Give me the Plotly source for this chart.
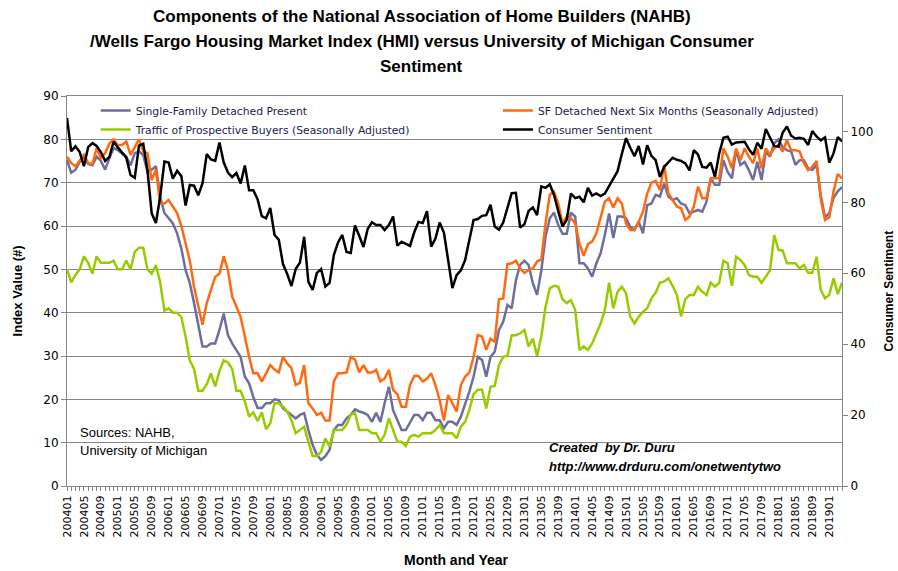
import plotly.graph_objects as go

# ---------------- data ----------------
years = list(range(2004, 2020))
months = [f"{y}{m:02d}" for y in years for m in range(1, 13)][:184]  # 200401 .. 201904

present = [
    75.2, 72.3, 73, 74.8, 76, 74.3, 74, 76, 75, 73, 75.6, 78,
    77.5, 76.8, 76, 74, 76.8, 77.2, 76.4, 72.5, 73, 73.8, 66.8, 63,
    61.8, 60.6, 58.3, 54.8, 49.8, 46.8, 42.2, 37.2, 32.2, 32.2, 32.9, 32.9,
    36, 39.8, 34.8, 32.9, 31.4, 29.8, 25.2, 23.7, 20.5, 18, 18, 19.1,
    19.1, 20, 19.8, 17.9, 17.2, 16.4, 15.6, 16.4, 16.8, 12.9, 9.5, 7.2,
    6, 6.9, 8.3, 12.9, 14.1, 14.1, 15.6, 16.4, 17.7, 17.2, 16.9, 16.4,
    14.8, 16.9, 14.8, 19.1, 22.9, 17.5, 15.2, 12.9, 12.9, 14.8, 16.4, 16.4,
    15.2, 16.9, 16.9, 15.2, 15.2, 13.3, 14.8, 14.8, 14.1, 16, 18.7, 21.8,
    25.2, 29.8, 29.1, 25.2, 29.8, 31, 36, 37.9, 41.8, 41, 47.5, 51,
    52, 51, 46.8, 44.1, 49.8, 57.5, 61.8, 63.1, 60.2, 58.2, 58.2, 63.1,
    62.2, 51.4, 51.4, 50.2, 48.3, 51.4, 53.7, 57.9, 62.9, 57.2, 62.2, 62.2,
    61.8, 59.8, 59.1, 61, 58.3, 64.8, 65.2, 67.2, 66.8, 69.8, 66.8, 66,
    66.4, 65.2, 64.8, 62.9, 63.3, 63.7, 63.3, 65.6, 71, 69.5, 69.5, 75.2,
    72.5, 71, 77.5, 74.1, 74.8, 72.9, 70.6, 74.8, 70.6, 77.2, 76, 79.1,
    80, 78.2, 77.5, 77.2, 74.1, 75.2, 75.2, 73.3, 72.9, 74.1, 67, 62,
    63, 66.5, 68, 69,
]

next_six = [
    76, 74.5, 73.8, 75.2, 76.4, 74.5, 74.3, 78, 75.6, 76.8, 79, 80,
    78.7, 78.7, 79.5, 76.4, 78.3, 80, 77.2, 76.8, 70.6, 73, 65.2, 65.2,
    66, 64.5, 63, 60, 56, 52, 46, 41.4, 37.2, 42.2, 45, 48.3,
    49, 53, 49.8, 43.7, 41.4, 39, 34.5, 29.8, 26, 26, 24.1, 26.2,
    27.9, 26.9, 26.2, 29.8, 28.3, 27.2, 23.3, 23.8, 27.9, 19.1, 17.9, 16.4,
    16.9, 15.1, 15.1, 24.1, 26, 26, 26.2, 29.8, 29.2, 26.2, 27.9, 26.2,
    26.2, 26.8, 24.1, 24.8, 26.8, 22.2, 21.2, 18.3, 18.3, 23.3, 25.4, 25.4,
    24.1, 24.8, 26, 23.3, 19.8, 15.1, 21, 19.1, 17.2, 23.3, 25.2, 26.2,
    29.8, 34.8, 34.5, 31.4, 34, 33.3, 43.1, 43.3, 51.2, 51.4, 52, 50.2,
    49.2, 49.8, 50.2, 51.8, 52.3, 60.6, 67.2, 67.9, 65.2, 60.6, 62.2, 61.8,
    60.6, 56, 53.1, 55.8, 56.4, 58.3, 61.8, 65.6, 66.4, 64.3, 66.4, 65.2,
    60.6, 59.1, 59.1, 61, 63.3, 67.5, 70, 70.4, 68.3, 74.1, 67.5, 66,
    64.5, 64.1, 61.4, 62.2, 64.5, 69.1, 66.4, 66.4, 71, 71, 71, 77.9,
    76, 73.3, 77.9, 75.2, 77.9, 76, 74.5, 77.9, 73.3, 77.9, 76.4, 77.9,
    78.7, 77.2, 79.8, 77.5, 77.5, 77.2, 74.5, 72.9, 73.7, 75, 66, 61.4,
    62, 68, 72, 71,
]

traffic = [
    50, 47, 48.7, 50, 53, 51.5, 49, 53, 51.5, 51.5, 51.5, 52,
    50, 50, 52, 50, 54, 55, 55, 50, 49, 51, 47, 40.5,
    41, 40, 40, 39, 34.5, 29, 27, 22, 22, 23.5, 26, 23,
    26.5, 29, 28.5, 27, 22, 22, 19.5, 16, 17, 15, 17, 13.1,
    14.5, 19.1, 19.1, 18.3, 17.2, 15.2, 12.2, 12.9, 13.7, 10.2, 6.9, 6.9,
    7.9, 11, 9.1, 12.9, 12.9, 12.9, 14.1, 16.4, 16.9, 12.9, 12.9, 12.9,
    12.2, 12.2, 10.2, 11.8, 15.6, 13.1, 10.2, 10.2, 9.2, 11.4, 11.8, 11.4,
    12.2, 12.2, 12.2, 12.9, 14.1, 12.2, 12.2, 12.2, 11, 13.7, 14.8, 17.5,
    21.2, 22.2, 22.2, 17.9, 22.9, 23.1, 27.9, 29.8, 30, 34.8, 34.8, 35.2,
    36, 32.2, 34, 30, 34.5, 41.4, 45.6, 46.2, 46, 43.1, 42.2, 42.9,
    40.6, 31.4, 32.2, 31.4, 32.9, 35.2, 37.5, 40.6, 46.9, 41, 44.8, 46,
    44.5, 39.1, 37.5, 39.1, 40.2, 41, 43.3, 44.6, 46.9, 47.2, 47.9, 46.2,
    44.1, 39.1, 43.1, 44.1, 44.1, 46, 44.8, 44.1, 46.9, 46, 46.9, 52,
    51.4, 46.2, 52.9, 52.2, 51, 48.7, 48.3, 48.3, 46.9, 48.3, 49.8, 57.9,
    54.5, 54.3, 51.4, 51.4, 51.4, 50.2, 51, 49.2, 49.2, 52.9, 45.2, 43.3,
    44.1, 47.9, 44.3, 46.9,
]

sentiment = [
    103.8, 94.4, 95.8, 94.2, 90.2, 95.6, 96.7, 95.9, 94.2, 91.7, 92.8, 97.1,
    95.5, 94.1, 92.6, 87.7, 86.9, 96.0, 96.5, 89.1, 76.9, 74.2, 81.6, 91.5,
    91.2, 86.7, 88.9, 87.4, 79.1, 84.9, 84.7, 82.0, 85.4, 93.6, 92.1, 91.7,
    96.9, 91.3, 88.4, 87.1, 88.3, 85.3, 90.4, 83.4, 83.4, 80.9, 76.1, 75.5,
    78.4, 70.8, 69.5, 62.6, 59.8, 56.4, 61.2, 63.0, 70.3, 57.6, 55.3, 60.1,
    61.2, 56.3, 57.3, 65.1, 68.7, 70.8, 66.0, 65.7, 73.5, 70.6, 67.4, 72.5,
    74.4, 73.6, 73.6, 72.2, 73.6, 76.0, 67.8, 68.9, 68.2, 67.7, 71.6, 74.5,
    74.2, 77.5, 67.5, 69.8, 74.3, 71.5, 63.7, 55.8, 59.5, 60.8, 63.7, 69.9,
    75.0, 75.3, 76.2, 76.4, 79.3, 73.2, 72.3, 74.3, 78.3, 82.6, 82.7, 72.9,
    73.8, 77.6, 78.6, 76.4, 84.5, 84.1, 85.1, 82.1, 77.5, 73.2, 75.1, 82.5,
    81.2, 81.6, 80.0, 84.1, 81.9, 82.5, 81.8, 82.5, 84.6, 86.9, 88.8, 93.6,
    98.1, 95.4, 93.0, 95.9, 90.7, 96.1, 93.1, 91.9, 87.2, 90.0, 91.3, 92.6,
    92.0, 91.7, 91.0, 89.0, 94.7, 93.5, 90.0, 89.8, 91.2, 87.2, 93.8, 98.2,
    98.5, 96.3, 96.9, 97.0, 97.1, 95.0, 93.4, 96.8, 95.1, 100.7, 98.5, 95.9,
    95.7, 99.7, 101.4, 98.8, 98.0, 98.2, 97.9, 96.2, 100.1, 98.6, 97.5, 98.3,
    91.2, 93.8, 98.4, 97.2,
]

series_names = [
    "Single-Family Detached Present",
    "SF Detached Next Six Months (Seasonally Adjusted)",
    "Traffic of Prospective Buyers (Seasonally Adjusted)",
    "Consumer Sentiment",
]
title_lines = [
    "Components of the National Association of Home Builders (NAHB)",
    "/Wells Fargo Housing Market Index (HMI) versus University of Michigan Consumer",
    "Sentiment",
]
left_ticks = list(range(0, 91, 10))
right_ticks = list(range(0, 101, 20))

# ---------------- figure ----------------
x = list(range(len(months)))
label_idx = list(range(0, len(months), 4))
label_text = [months[i] for i in label_idx]

GRID = "#868686"
PURPLE = "#6E6E9E"
ORANGE = "#FF6A10"
GREEN = "#99CC00"
BLACK = "#000000"
LEGTXT = "#1C1C4A"
TICKFONT = "DejaVu Sans, Verdana, sans-serif"
CAL = "Liberation Sans, Arial, sans-serif"

fig = go.Figure()
fig.add_trace(go.Scatter(x=x, y=present, mode="lines", name=series_names[0],
                         line=dict(color=PURPLE, width=2.5), legend="legend"))
fig.add_trace(go.Scatter(x=x, y=traffic, mode="lines", name=series_names[2],
                         line=dict(color=GREEN, width=2.5), legend="legend"))
fig.add_trace(go.Scatter(x=x, y=next_six, mode="lines", name=series_names[1],
                         line=dict(color=ORANGE, width=2.5), legend="legend2"))
fig.add_trace(go.Scatter(x=x, y=sentiment, mode="lines", name=series_names[3],
                         line=dict(color=BLACK, width=2.5), legend="legend2", yaxis="y2"))

legend_common = dict(
    orientation="v", yanchor="top", xanchor="left",
    bgcolor="rgba(0,0,0,0)", borderwidth=0,
    font=dict(family=TICKFONT, size=10.8, color=LEGTXT),
    tracegroupgap=0, itemwidth=30,
)

fig.update_layout(
    width=898, height=571,
    paper_bgcolor="white", plot_bgcolor="white",
    margin=dict(l=67, r=56, t=96, b=85),
    showlegend=True,
    legend=dict(x=0.037, y=1.0, **legend_common),
    legend2=dict(x=0.556, y=1.0, **legend_common),
    xaxis=dict(
        range=[0, len(months) - 1],
        tickmode="array", tickvals=label_idx, ticktext=label_text,
        tickangle=-90, tickfont=dict(family=TICKFONT, size=11, color="black"),
        ticks="outside", ticklen=4, tickcolor=GRID, tickwidth=1,
        minor=dict(dtick=1, tick0=0, ticks="outside", ticklen=4, tickcolor=GRID, tickwidth=1, showgrid=False),
        showgrid=False, zeroline=False,
        showline=True, linecolor=GRID, linewidth=1, mirror=True,
    ),
    yaxis=dict(
        range=[0, 90], tickvals=left_ticks,
        tickfont=dict(family=TICKFONT, size=12, color="black"),
        ticks="outside", ticklen=5, tickcolor=GRID,
        showgrid=True, gridcolor=GRID, gridwidth=1, zeroline=False,
        showline=True, linecolor=GRID, linewidth=1,
    ),
    yaxis2=dict(
        range=[0, 110], tickvals=right_ticks, overlaying="y", side="right",
        tickfont=dict(family=TICKFONT, size=12, color="black"),
        ticks="outside", ticklen=5, tickcolor=GRID,
        showgrid=False, zeroline=False,
        showline=True, linecolor=GRID, linewidth=1,
    ),
)

annots = []
for line_text, ypos in zip(title_lines, [1.2026, 1.1385, 1.0744]):
    annots.append(dict(text=f"<b>{line_text}</b>", x=0.458, y=ypos,
                       font=dict(family=CAL, size=17, color="black")))
annots += [
    dict(text="<b>Index Value (#)</b>", x=-0.064, y=0.5, textangle=-90,
         font=dict(family=CAL, size=13, color="black")),
    dict(text="<b>Consumer Sentiment</b>", x=1.06, y=0.5, textangle=-90,
         font=dict(family=CAL, size=12, color="black")),
    dict(text="<b>Month and Year</b>", x=0.502, y=-0.19,
         font=dict(family=CAL, size=14, color="black")),
    dict(text="Sources: NAHB,", x=0.0145, y=0.138, xanchor="left",
         font=dict(family=CAL, size=13, color="black")),
    dict(text="University of Michigan", x=0.0145, y=0.09, xanchor="left",
         font=dict(family=CAL, size=13, color="black")),
    dict(text="<b><i>Created  by Dr. Duru</i></b>", x=0.619, y=0.1, xanchor="left",
         font=dict(family=CAL, size=13, color="black")),
    dict(text="<b><i>http://www.drduru.com/onetwentytwo</i></b>", x=0.619, y=0.049, xanchor="left",
         font=dict(family=CAL, size=13, color="black")),
]
for a in annots:
    a.setdefault("xanchor", "center")
    fig.add_annotation(xref="paper", yref="paper", showarrow=False, yanchor="middle", **a)

fig.write_html("out.html", config={"displayModeBar": False},
               post_script="document.body.style.margin='0';document.body.style.padding='0';")
